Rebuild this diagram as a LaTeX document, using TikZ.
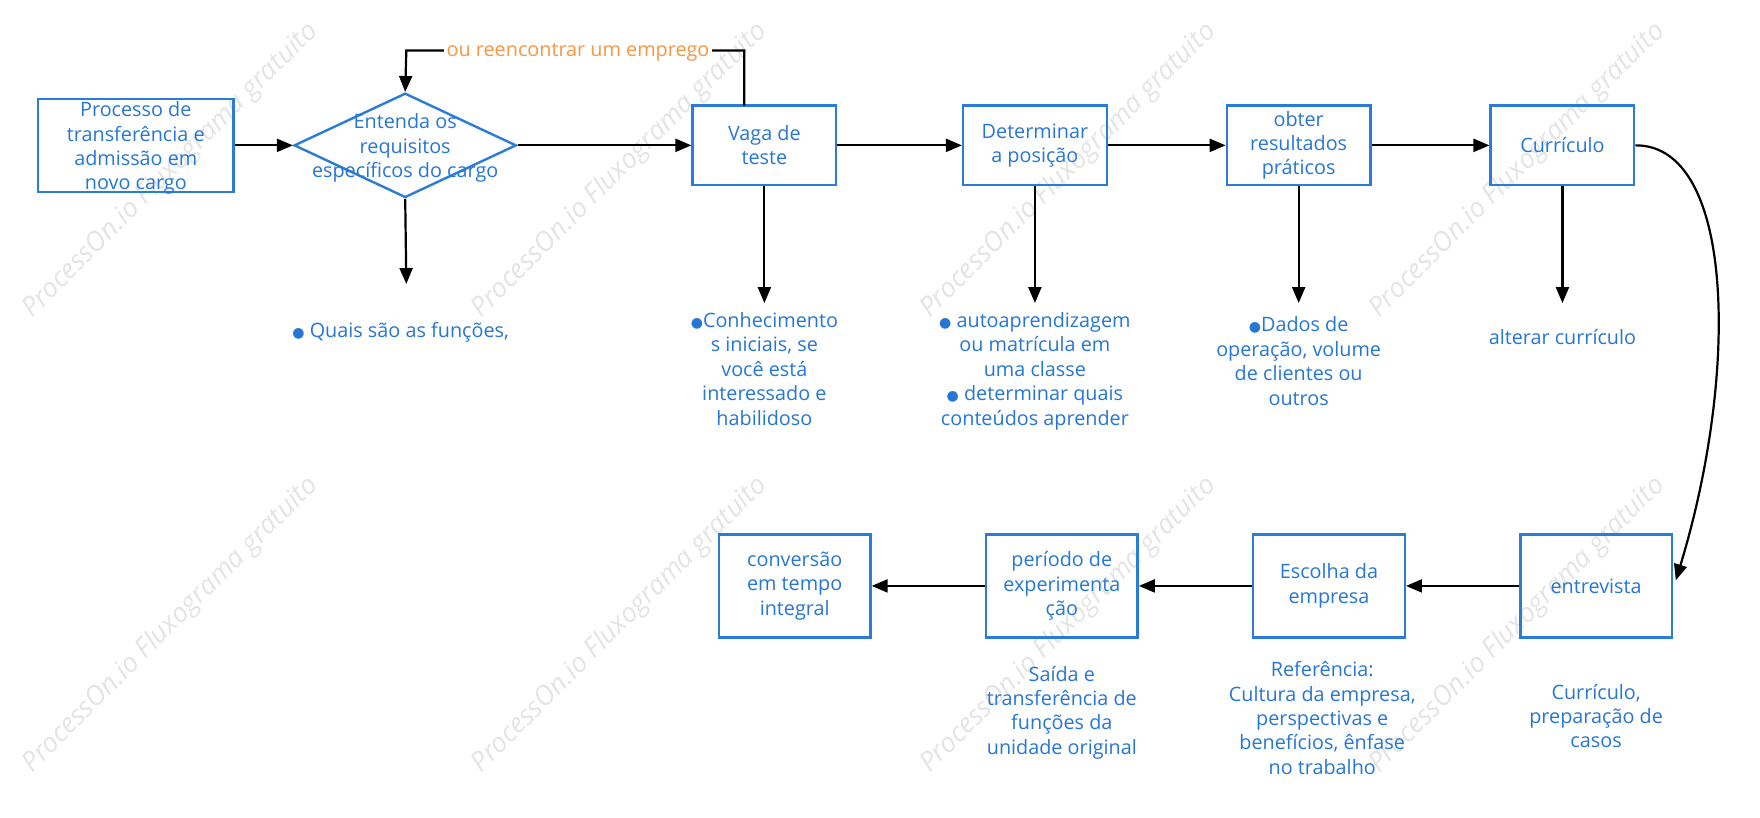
\documentclass[tikz,border=0pt]{standalone}
\usepackage{fontspec}
\setmainfont{Open Sans}
\newfontfamily\dvs{DejaVu Sans}
\usetikzlibrary{shapes.geometric,arrows.meta,calc}
\definecolor{bl}{RGB}{43,124,214}
\definecolor{txt}{RGB}{38,118,214}
\definecolor{org}{RGB}{247,150,70}
\definecolor{wm}{RGB}{228,228,228}
\newcommand\bul{{\dvs\fontsize{7}{7}\selectfont ●}}
\begin{document}
\begin{tikzpicture}[x=0.5612pt,y=-0.5612pt,
 box/.style={draw=bl,line width=1.2pt,align=center,text=txt,font=\fontsize{9.9}{12.2}\selectfont,inner sep=0pt},
 topbox/.style={box,minimum width=71.8pt,minimum height=39.8pt},
 botbox/.style={box,minimum width=75.8pt,minimum height=51.6pt},
 desc/.style={align=center,text=txt,font=\fontsize{9.9}{12.2}\selectfont,anchor=north,inner sep=0pt},
 arr/.style={draw=black,line width=1.1pt,-{Triangle[length=8pt,width=6.5pt]}},
 wmark/.style={text=wm,rotate=45,font=\itshape\fontsize{13.5}{13.5}\selectfont,inner sep=0pt}]
\useasboundingbox (0,0) rectangle (1568,728);
% watermarks
\foreach \cx in {152,552,952,1352}{
  \foreach \cy in {152,557}{
    \node[wmark] at (\cx,\cy) {ProcessOn.io Fluxograma gratuito};
  }
}
% top row
\node[box,minimum width=97.6pt,minimum height=46.6pt] (A) at (121,129.5) {};
\node[desc,anchor=center] (At) at (121,132) {Processo de\\transferência e\\admissão em\\novo cargo};
\node[draw=bl,line width=1.2pt,diamond,minimum width=111.1pt,minimum height=52.2pt,inner sep=0pt] (B) at (361,129.5) {};
\node[desc,anchor=center] (Bt) at (361,132) {Entenda os\\requisitos\\específicos do cargo};
\node[topbox] (C) at (681,129.5) {Vaga de\\teste};
\node[topbox] (D) at (922,129.5) {Determinar\\a posição};
\node[topbox] (E) at (1157,129.5) {obter\\resultados\\práticos};
\node[topbox] (F) at (1392,129.5) {Currículo};
% bottom row
\node[botbox] (G) at (1422,522) {entrevista};
\node[botbox] (H) at (1184,522) {Escolha da\\empresa};
\node[botbox] (I) at (946,522) {período de\\experimenta\\ção};
\node[botbox] (J) at (708,522) {conversão\\em tempo\\integral};
% descriptions
\node[desc,anchor=center] (tB) at (357,296) {\bul{} Quais são as funções,};
\node[desc] (tC) at (681,278) {\bul Conhecimento\\s iniciais, se\\você está\\interessado e\\habilidoso};
\node[desc] (tD) at (922,278) {\bul{} autoaprendizagem\\ou matrícula em\\uma classe\\\bul{} determinar quais\\conteúdos aprender};
\node[desc] (tE) at (1157,282) {\bul Dados de\\operação, volume\\de clientes ou\\outros};
\node[desc,anchor=center] (tF) at (1392,300) {alterar currículo};
\node[desc] (tI) at (946,593) {Saída e\\transferência de\\funções da\\unidade original};
\node[desc] (tH) at (1178,589) {Referência:\\Cultura da empresa,\\perspectivas e\\benefícios, ênfase\\no trabalho};
\node[desc] (tG) at (1422,609) {Currículo,\\preparação de\\casos};
% coordinates
\coordinate (bB) at (362,253);
\coordinate (bC) at (681,270);
\coordinate (bD) at (922,270);
\coordinate (bE) at (1157,270);
\coordinate (bF) at (1392,270);
\coordinate (Cl) at (663,94);
\coordinate (Gin) at (1493,517);
% arrows
\draw[arr] (A) -- (B);
\draw[arr] (B) -- (C);
\draw[arr] (C) -- (D);
\draw[arr] (D) -- (E);
\draw[arr] (E) -- (F);
\draw[arr] (B.south) -- (bB);
\draw[arr] (C.south) -- (bC);
\draw[arr] (D.south) -- (bD);
\draw[arr] (E.south) -- (bE);
\draw[arr] (F.south) -- (bF);
\draw[arr] (Cl) -- (663,45) -- (362,45) -- (B.north);
\node[text=org,fill=white,inner sep=1.5pt,font=\fontsize{9.9}{12}\selectfont] (L) at (515,47) {ou reencontrar um emprego};
\draw[arr] (F.east) .. controls (1545,129) and (1550,330) .. (Gin);
\draw[arr] (G) -- (H);
\draw[arr] (H) -- (I);
\draw[arr] (I) -- (J);
\end{tikzpicture}
\end{document}
